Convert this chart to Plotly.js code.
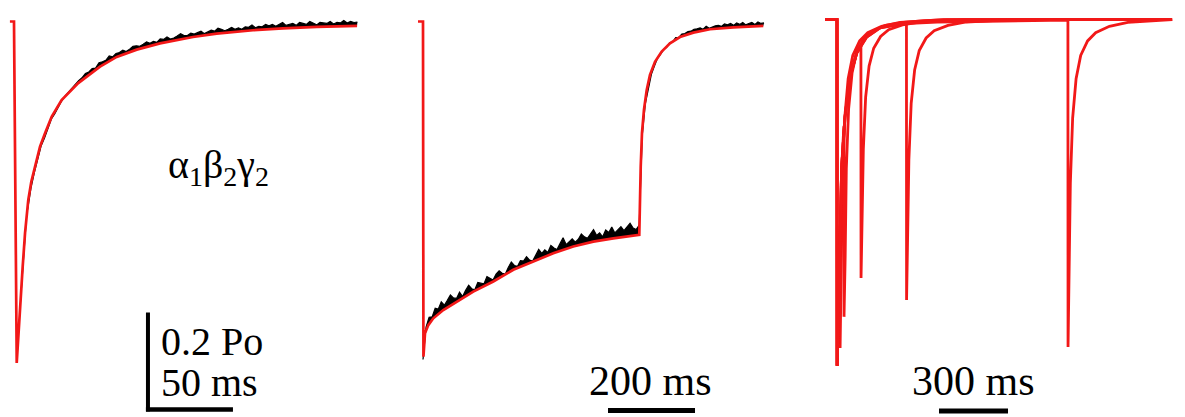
<!DOCTYPE html>
<html><head><meta charset="utf-8">
<script src="https://cdn.plot.ly/plotly-3.0.1.min.js"></script>
<style>
html,body{margin:0;padding:0;background:#fff}
#chart{width:1185px;height:417px}
</style>
</head><body><div id="chart"></div><script>
// ---------- Panel 1: alpha1beta2gamma2, short pulse (time ms, open probability) ----------
var fit1T = [-2.4, 0, 1.6, 2.6, 3.9, 5.1, 6.5, 8.4, 10.2, 12.4, 15.3, 18.2, 22.2, 28.0, 37.8, 50.6, 60.4, 72.2, 85.9, 105.3, 119.2, 140.6, 158.2, 178.2, 201.8];
var fit1P = [0, 0, 0.704, 0.64, 0.574, 0.506, 0.436, 0.368, 0.330, 0.299, 0.258, 0.231, 0.196, 0.162, 0.127, 0.093, 0.073, 0.058, 0.045, 0.032, 0.025, 0.018, 0.014, 0.011, 0.009];
var rec1Start = 8, rec1Step = 2;
var rec1P = [0.388,0.343,0.311,0.284,0.256,0.240,0.222,0.201,0.190,0.176,0.164,0.154,0.146,0.139,0.129,0.122,
0.116,0.107,0.104,0.097,0.096,0.085,0.083,0.080,0.071,0.073,
0.066,0.064,0.059,0.062,0.057,0.051,0.050,0.051,0.047,0.042,
0.045,0.041,0.043,0.036,0.037,0.032,0.036,0.034,0.030,0.025,
0.029,0.029,0.024,0.026,0.023,0.020,0.025,0.021,0.018,0.020,
0.014,0.016,0.019,0.016,0.012,0.016,0.013,0.016,0.011,0.012,
0.007,0.013,0.010,0.011,0.006,0.009,0.006,0.010,0.006,0.002,
0.008,0.006,0.004,0.008,0.002,0.004,0.006,0.000,0.004,0.007,
0.002,0.003,0.004,0.000,0.005,0.002,0.003,-0.002,0.003,0.000,
0.002,0.001];

// ---------- Panel 2: long (500 ms) pulse ----------
var fit2T = [-11.5, 0, 1, 4.6, 12.2, 23.7, 46.7, 77.5, 115.6, 161.6, 207.6, 253.6, 299.5, 345.5, 391.5, 437.5, 495, 497.2, 500.5, 503.4, 508, 514.3, 521.8, 533.3, 548.7, 567.8, 590.8, 621.4, 659.8, 713.3, 782.3];
var fit2P = [0, 0, 0.691, 0.643, 0.626, 0.612, 0.595, 0.578, 0.557, 0.536, 0.512, 0.495, 0.478, 0.464, 0.454, 0.447, 0.440, 0.440, 0.299, 0.230, 0.182, 0.141, 0.110, 0.083, 0.062, 0.045, 0.032, 0.023, 0.016, 0.012, 0.009];
var rec2Start = 0, rec2Step = 7;
var rec2P = [0.697,
0.630,0.610,0.609,0.591,0.593,0.578,0.585,0.575,0.564,0.570,
0.571,0.558,0.567,0.554,0.544,0.551,0.553,0.538,0.539,0.541,
0.526,0.530,0.533,0.521,0.514,0.519,0.521,0.507,0.496,0.503,
0.505,0.493,0.494,0.485,0.492,0.494,0.481,0.470,0.478,0.471,
0.476,0.462,0.467,0.470,0.458,0.446,0.460,0.454,0.448,0.455,
0.449,0.438,0.444,0.447,0.437,0.429,0.441,0.436,0.444,0.430,
0.435,0.424,0.436,0.429,0.423,0.431,0.424,0.416,0.426,0.429,
0.420,
0.235,0.170,0.136,0.109,0.092,0.076,0.068,0.058,0.053,0.044,
0.042,0.033,0.033,0.026,0.025,0.021,0.020,0.016,0.015,0.013,
0.016,0.010,0.014,0.011,0.009,0.008,0.010,0.005,0.007,0.004,
0.008,0.003,0.006,0.002,0.007,0.004,0.002,0.006,0.001,0.004,
0.003];

// ---------- Panel 3: paired pulses, fitted responses ----------
var pairA_T = [-52, 0, 0.5, 5, 13, 13.5, 18.5, 23.5, 33.5, 48.5, 68.5, 98.5, 133.5, 193.5, 273.5, 363.5, 463.5, 1457];
var pairA_P = [-0.004, -0.004, 0.710, 0.60, 0.436, 0.673, 0.538, 0.335, 0.199, 0.118, 0.070, 0.040, 0.023, 0.010, 0.002, -0.001, -0.004, -0.004];
var pairB_T = [-52, 0, 0.5, 5, 13, 20.4, 30, 30.5, 35.5, 40.5, 50.5, 65.5, 85.5, 115.5, 150.5, 210.5, 290.5, 380.5, 480.5, 1457];
var pairB_P = [-0.004, -0.004, 0.710, 0.60, 0.436, 0.300, 0.215, 0.609, 0.486, 0.303, 0.180, 0.106, 0.063, 0.036, 0.021, 0.008, 0.002, -0.002, -0.004, -0.004];
var pairC_T = [-52, 0, 0.5, 5, 13, 20.4, 34.8, 56.5, 85.7, 104, 104.5, 109.5, 114.5, 124.5, 139.5, 159.5, 189.5, 224.5, 284.5, 364.5, 454.5, 554.5, 1457];
var pairC_P = [-0.004, -0.004, 0.710, 0.60, 0.436, 0.300, 0.197, 0.114, 0.065, 0.050, 0.529, 0.422, 0.263, 0.156, 0.092, 0.055, 0.031, 0.017, 0.007, 0.001, -0.002, -0.004, -0.004];
var pairD_T = [-52, 0, 0.5, 5, 13, 20.4, 34.8, 56.5, 85.7, 129, 187, 274, 302, 302.5, 307.5, 312.5, 322.5, 337.5, 357.5, 387.5, 422.5, 482.5, 562.5, 652.5, 752.5, 1457];
var pairD_P = [-0.004, -0.004, 0.710, 0.60, 0.436, 0.300, 0.197, 0.114, 0.065, 0.032, 0.013, 0.005, 0.004, 0.574, 0.458, 0.285, 0.169, 0.100, 0.060, 0.034, 0.019, 0.008, 0.001, -0.002, -0.004, -0.004];
var pairE_T = [-52, 0, 0.5, 5, 13, 20.4, 34.8, 56.5, 85.7, 129, 187, 274, 435, 652, 870, 1004, 1004.5, 1009.5, 1014.5, 1024.5, 1039.5, 1059.5, 1089.5, 1124.5, 1184.5, 1264.5, 1354.5, 1457];
var pairE_P = [-0.004, -0.004, 0.710, 0.60, 0.436, 0.300, 0.197, 0.114, 0.065, 0.032, 0.013, 0.005, 0.001, -0.001, -0.002, -0.003, 0.671, 0.536, 0.334, 0.199, 0.118, 0.070, 0.040, 0.023, 0.010, 0.002, -0.001, -0.004];

// ---------- Scale bars (values) and labels ----------
var bar1ms = 50, bar1Po = 0.2, bar2ms = 200, bar3ms = 300;
var labelSubunits = 'α<sub>1</sub>β<sub>2</sub>γ<sub>2</sub>';
var labelBar1Po = '0.2 Po', labelBar1ms = '50 ms', labelBar2 = '200 ms', labelBar3 = '300 ms';

// ---------- Layout helpers ----------
var W = 1185, H = 417;
var RED = '#f21818';
var yRange = [(H - 21.5) / 485, -21.5 / 485];
function ax(d0, d1, r) { return {domain: [d0 / W, d1 / W], range: r, visible: false, fixedrange: true}; }
function yax() { return {domain: [0, 1], range: yRange, visible: false, fixedrange: true}; }

var traces = [];
traces.push({x: fit1T.slice(2), y: fit1P.slice(2), xaxis: 'x', yaxis: 'y', mode: 'lines', line: {color: 'rgba(0,0,0,0)', width: 0}});
traces.push({x0: rec1Start, dx: rec1Step, y: rec1P, xaxis: 'x', yaxis: 'y', mode: 'lines', fill: 'tonexty', fillcolor: '#000', line: {color: '#000', width: 1.2}});
traces.push({x: fit1T, y: fit1P, xaxis: 'x', yaxis: 'y', mode: 'lines', line: {color: RED, width: 2.7}});
traces.push({x: fit2T.slice(2), y: fit2P.slice(2), xaxis: 'x2', yaxis: 'y2', mode: 'lines', line: {color: 'rgba(0,0,0,0)', width: 0}});
traces.push({x0: rec2Start, dx: rec2Step, y: rec2P, xaxis: 'x2', yaxis: 'y2', mode: 'lines', fill: 'tonexty', fillcolor: '#000', line: {color: '#000', width: 1.2}});
traces.push({x: fit2T, y: fit2P, xaxis: 'x2', yaxis: 'y2', mode: 'lines', line: {color: RED, width: 2.7}});
[[pairA_T, pairA_P], [pairB_T, pairB_P], [pairC_T, pairC_P], [pairD_T, pairD_P], [pairE_T, pairE_P]].forEach(function (p) {
  traces.push({x: p[0], y: p[1], xaxis: 'x3', yaxis: 'y3', mode: 'lines', line: {color: RED, width: 2.8}});
});

var b1x = 78.8, b2x = 425.3, b3x = 443.5, barY = (409.5 - 21.5) / 485;
var shapes = [
  {type: 'line', xref: 'x', yref: 'y', x0: b1x, x1: b1x, y0: barY - bar1Po, y1: barY + 0.004, line: {color: '#000', width: 4}},
  {type: 'line', xref: 'x', yref: 'y', x0: b1x - 1.2, x1: b1x + bar1ms, y0: barY, y1: barY, line: {color: '#000', width: 4.5}},
  {type: 'line', xref: 'x2', yref: 'y2', x0: b2x, x1: b2x + bar2ms, y0: barY + 0.002, y1: barY + 0.002, line: {color: '#000', width: 5}},
  {type: 'line', xref: 'x3', yref: 'y3', x0: b3x, x1: b3x + bar3ms, y0: barY + 0.003, y1: barY + 0.003, line: {color: '#000', width: 5}}
];

var FONT = 'Liberation Serif, Times New Roman, serif';
function ann(text, px, py, size) {
  return {text: text, xref: 'paper', yref: 'paper', x: px / W, y: 1 - py / H, xanchor: 'left', yanchor: 'middle',
          showarrow: false, font: {family: FONT, size: size, color: '#000'}};
}
var annotations = [
  ann(labelSubunits, 166, 167, 40),
  ann(labelBar1Po, 159, 341, 40),
  ann(labelBar1ms, 159, 382, 40),
  ann(labelBar2, 587, 381, 42),
  ann(labelBar3, 910, 381, 42)
];

var layout = {
  width: W, height: H, margin: {l: 0, r: 0, t: 0, b: 0, pad: 0},
  paper_bgcolor: '#fff', plot_bgcolor: 'rgba(0,0,0,0)', showlegend: false, hovermode: false,
  font: {family: FONT},
  xaxis: ax(0, 390, [-14 / 1.7, (390 - 14) / 1.7]),
  xaxis2: ax(395, 790, [(395 - 423) / 0.435, (790 - 423) / 0.435]),
  xaxis3: ax(800, 1185, [(800 - 837) / 0.23, (1185 - 837) / 0.23]),
  yaxis: yax(), yaxis2: yax(), yaxis3: yax(),
  shapes: shapes, annotations: annotations
};
Plotly.newPlot('chart', traces, layout, {staticPlot: true, displayModeBar: false});
</script></body></html>
